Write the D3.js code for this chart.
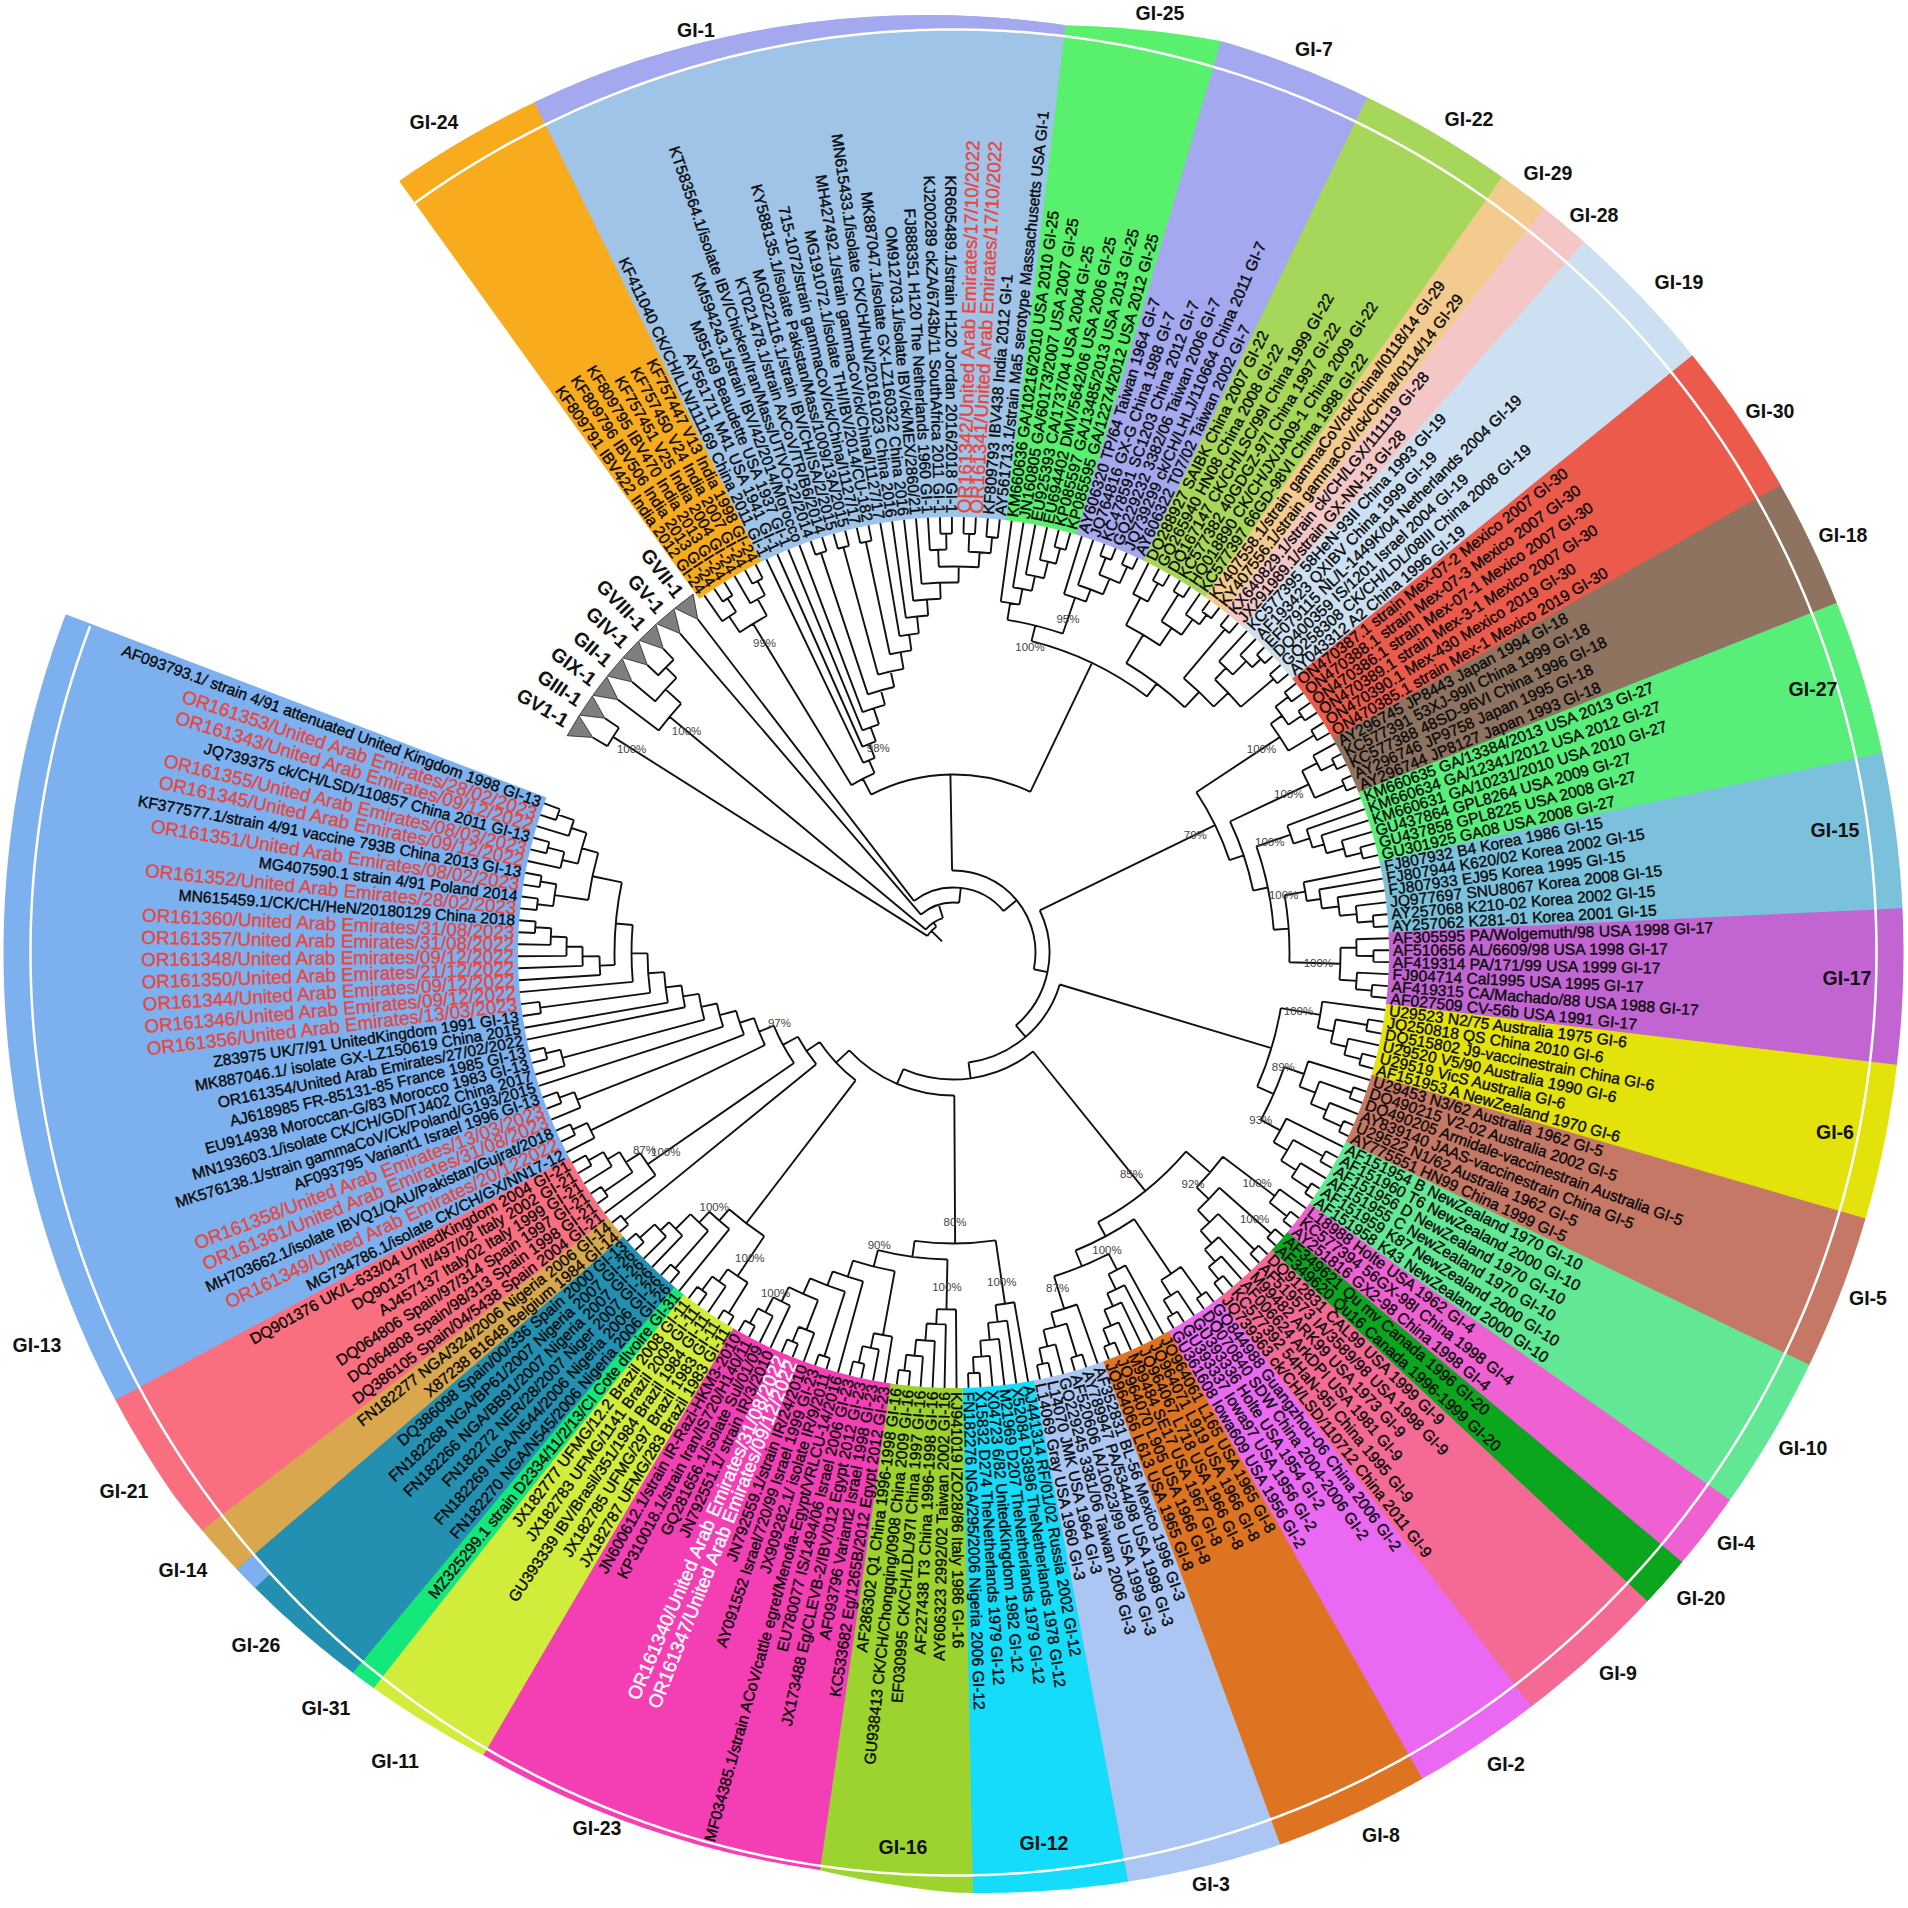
<!DOCTYPE html>
<html>
<head>
<meta charset="utf-8">
<script src="https://cdn.jsdelivr.net/npm/d3@7"></script>
<style>
  body { margin: 0; background: #fff; }
  text { font-family: "Liberation Sans", Arial, sans-serif; }
</style>
</head>
<body>
<div id="chart"></div>
<script>
// taxa, clockwise from the collapsed clades
const collapsed = ["GV1-1","GIII-1","GIX-1","GII-1","GIV-1","GVIII-1","GV-1","GVII-1"];
const gi24 = ["KF809791 IBV422 India 2012 GI-24","KF809796 IBV506 India 2013 GI-24","KF809795 IBV470 India 2013 GI-24","KF757451 V25 India 2004 GI-24","KF757450 V24 India 2007 GI-24","KF757447 V13 India 1998 GI-24"];
const gi1 = ["KF411040 CK/CH/LLN/111169 China 2011 GI-1","AY561711 M41 USA 1941 GI-1","M95169 Beaudette USA 1937 GI-1","KM594243.1/strain IBV/42/2014/Morocco","KT583564.1/isolate IBV/Chicken/Iran/Mass/UTIVO-22/2014","KT021478.1/strain AvCoV/TR/B6/2014","MG022116.1/strain IBV/CH/ISA/2/2015","KY588135.1/isolate Pakistan/Mass/1009/13A/2015","715-1072/strain gammaCoV/ck/China/I1127/17","MG191072.1/isolate THI/IBV/2014/CU-182","MH427492.1/strain gammaCoV/ck/China/I1127/17","MN615433.1/isolate CK/CH/HuN/20161023 China 2016","MK887047.1/isolate GX-LZ160322 China 2016","OM912703.1/isolate IBV/ck/MEX/2860/21","FJ888351 H120 The Netherlands 1960 GI-1","KJ200289 ckZA/6743b/11 SouthAfrica 2011 GI-1","KR605489.1/strain H120 Jordan 2016/2018 GI-1","OR161342/United Arab Emirates/17/10/2022","OR161341/United Arab Emirates/17/10/2022","KF809793 IBV438 India 2012 GI-1","AY561713.1/strain Ma5 serotype Massachusetts USA GI-1"];
const gi25 = ["KM660636 GA/10216/2010 USA 2010 GI-25","JN160805 GA/60173/2007 USA 2007 GI-25","EU925393 CA/1737/04 USA 2004 GI-25","EU694402 DMV/5642/06 USA 2006 GI-25","KP085597 GA/13485/2013 USA 2013 GI-25","KP085595 GA/12274/2012 USA 2012 GI-25"];
const gi7 = ["AY606320 TP/64 Taiwan 1964 GI-7","JQ764816 GX-G China 1988 GI-7","KC478591 SC1203 China 2012 GI-7","GQ229232 3382/06 Taiwan 2006 GI-7","JQ739299 ck/CH/LHLJ/110664 China 2011 GI-7","AY606322 T07/02 Taiwan 2002 GI-7"];
const gi22 = ["DQ288927 SAIBK China 2007 GI-22","GQ265940 HN08 China 2008 GI-22","DQ167147 CK/CH/LSC/99I China 1999 GI-22","KC577382 40GDGZ-97I China 1997 GI-22","HQ018890 CK/CH/JX/JA09-1 China 2009 GI-22","KC577397 66GD-98VI China 1998 GI-22"];
const gi29 = ["KY407558.1/strain gammaCoV/ck/China/I0118/14 GI-29","KY407556.1/strain gammaCoV/ck/China/I0114/14 GI-29"];
const gi28 = ["KX640829.1/strain ck/CH/LGX/111119 GI-28","JX291989.1/strain GX-NN-13 GI-28"];
const gi19 = ["KC577395 58HeN-93II China 1993 GI-19","AF193423 QXIBV China 1999 GI-19","EF079115 NL/L-1449K/04 Netherlands 2004 GI-19","DQ400359 IS/1201 Israel 2004 GI-19","GQ258308 CK/CH/LDL/08III China 2008 GI-19","AY043312 A2 China 1996 GI-19"];
const gi30 = ["ON470387.1 strain Mex-07-2 Mexico 2007 GI-30","ON470388.1 strain Mex-07-3 Mexico 2007 GI-30","ON470386.1 strain Mex-07-1 Mexico 2007 GI-30","ON470389.1 strain Mex-3-1 Mexico 2007 GI-30","ON470390.1 Mex-430 Mexico 2019 GI-30","ON470385.1 strain Mex-1 Mexico 2019 GI-30"];
const gi18 = ["AY296745 JP8443 Japan 1994 GI-18","KC577391 53XJ-99II China 1999 GI-18","KC577388 48SD-96VI China 1996 GI-18","AY296746 JP9758 Japan 1995 GI-18","AY296744 JP8127 Japan 1993 GI-18"];
const gi27 = ["KM660635 GA/13384/2013 USA 2013 GI-27","KM660634 GA/12341/2012 USA 2012 GI-27","KM660631 GA/10231/2010 USA 2010 GI-27","GU437864 GPL8264 USA 2009 GI-27","GU437858 GPL8225 USA 2008 GI-27","GU301925 GA08 USA 2008 GI-27"];
const gi15 = ["FJ807932 B4 Korea 1986 GI-15","FJ807944 K620/02 Korea 2002 GI-15","FJ807933 EJ95 Korea 1995 GI-15","JQ977697 SNU8067 Korea 2008 GI-15","AY257068 K210-02 Korea 2002 GI-15","AY257062 K281-01 Korea 2001 GI-15"];
const gi17 = ["AF305595 PA/Wolgemuth/98 USA 1998 GI-17","AF510656 AL/6609/98 USA 1998 GI-17","AF419314 PA/171/99 USA 1999 GI-17","FJ904714 Cal1995 USA 1995 GI-17","AF419315 CA/Machado/88 USA 1988 GI-17","AF027509 CV-56b USA 1991 GI-17"];
const gi6 = ["U29523 N2/75 Australia 1975 GI-6","JQ250818 QS China 2010 GI-6","DQ515802 J9-vaccinestrain China GI-6","U29520 V5/90 Australia 1990 GI-6","U29519 VicS Australia GI-6","AF151953 A NewZealand 1970 GI-6"];
const gi5 = ["U29453 N3/62 Australia 1962 GI-5","DQ490215 V2-02 Australia 2002 GI-5","DQ490205 Armidale-vaccinestrain Australia GI-5","AY839140 JAAS-vaccinestrain China GI-5","U29522 N1/62 Australia 1962 GI-5","AY775551 HN99 China 1999 GI-5"];
const gi10 = ["AF151954 B NewZealand 1970 GI-10","AF151960 T6 NewZealand 2000 GI-10","AF151956 D NewZealand 1970 GI-10","AF151955 C NewZealand 1970 GI-10","AF151959 K87 NewZealand 2000 GI-10","AF151958 K43 NewZealand 2000 GI-10"];
const gi4 = ["L18988 Holte USA 1962 GI-4","KC577394 56GX-98I China 1998 GI-4","AY251816 GX2-98 China 1998 GI-4"];
const gi20 = ["AF349621 Qu mv Canada 1996 GI-20","AF349620 Qu16 Canada 1996-1999 GI-20"];
const gi9 = ["DQ912831 CAL99 USA 1999 GI-9","AF519573 IA/3589/98 USA 1998 GI-9","M99482 ARK99 USA 1973 GI-9","AF006624 ArkDPI USA 1981 GI-9","KC577392 54HaN-95I China 1995 GI-9","JQ739363 ck/CH/LSD/110712 China 2011 GI-9"];
const gi2 = ["GQ844988 Guangzhou-06 China 2006 GI-2","DQ070840 SDW China 2004-2006 GI-2","GU393336 Holte USA 1954 GI-2","GU393337 Iowa97 USA 1956 GI-2","GU361608 Iowa609 USA 1956 GI-2"];
const gi8 = ["JQ964061 L165 USA 1965 GI-8","JQ964071 L919 USA 1966 GI-8","JQ964067 L718 USA 1966 GI-8","M99484 SE17 USA 1967 GI-8","JQ964070 L905 USA 1966 GI-8","JQ964066 L613 USA 1965 GI-8"];
const gi3 = ["AF352831 BL-56 Mexico 1996 GI-3","AY789947 PA/5344/98 USA 1998 GI-3","AF520606 IA/10623/99 USA 1999 GI-3","GQ229245 3381/06 Taiwan 2006 GI-3","L14070 JMK USA 1964 GI-3","L14069 Gray USA 1960 GI-3"];
const gi12 = ["AJ441314 RF/01/02 Russia 2002 GI-12","X52084 D3896 TheNetherlands 1978 GI-12","M21969 D207 TheNetherlands 1979 GI-12","X04723 6/82 UnitedKingdom 1982 GI-12","X15832 D274 TheNetherlands 1979 GI-12","FN182276 NGA/295/2006 Nigeria 2006 GI-12"];
const gi16 = ["KJ941019 IZO28/86 Italy 1986 GI-16","AY606323 2992/02 Taiwan 2002 GI-16","AF227438 T3 China 1996-1998 GI-16","EF030995 CK/CH/LDL/97I China 1997 GI-16","GU938413 CK/CH/Chongqing/0908 China 2009 GI-16","AF286302 Q1 China 1996-1998 GI-16"];
const gi23 = ["KC533682 Eg/1265B/2012 Egypt 2012 GI-23","AF093796 Variant2 Israel 1998 GI-23","JX173488 Eg/CLEVB-2/IBV/012 Egypt 2012 GI-23","EU780077 IS/1494/06 Israel 2006 GI-23","MF034385.1/strain ACoV/cattle egret/Menofia-Egypt/VRLCU-14/2016","JX909282.1/ isolate IR/9/2011","AY091552 Israel/720/99 Israel 1999 GI-23","JN792559.1/strain IR/24/2010","OR161347/United Arab Emirates/09/12/2022","OR161340/United Arab Emirates/31/08/2022","JN792551.1/ strain IR/3/2010","GQ281656.1/isolate Sul/01/09","KP310018.1/strain Iran/IS720/H140/11","JN600612.1/strain IR-Razi-HKM3-2010"];
const gi11 = ["JX182787 UFMG/283 Brazil 1983 GI-11","JX182785 UFMG/297 Brazil 1983 GI-11","GU393339 IBV/Brasil/351/1984 Brazil 1984 GI-11","JX182783 UFMG/1141 Brazil 2009 GI-11","JX182777 UFMG/12.2 Brazil 2008 GI-11"];
const gi31 = ["MZ325299.1 strain D2334/11/2/13/CI Cote dIvoire GI-31"];
const gi26 = ["FN182270 NGA/N545/2006 Nigeria 2006 GI-26","FN182269 NGA/N544/2006 Nigeria 2006 GI-26","FN182272 NER/28/2007 Niger 2007 GI-26","FN182266 NGA/BB91/2007 Nigeria 2007 GI-26","FN182268 NGA/BP61/2007 Nigeria 2007 GI-26","DQ386098 Spain/00/336 Spain 2000 GI-13"];
const gi14 = ["X87238 B1648 Belgium 1984 GI-14","FN182277 NGA/324/2006 Nigeria 2006 GI-14"];
const gi21 = ["DQ386105 Spain/04/5438 Spain 2004 GI-21","DQ064808 Spain/98/313 Spain 1998 GI-21","DQ064806 Spain/97/314 Spain 1997 GI-21","AJ457137 Italy02 Italy 1999 GI-21","DQ901377 It/497/02 Italy 2002 GI-21","DQ901376 UK/L-633/04 UnitedKingdom 2004 GI-21"];
const gi13 = ["MG734786.1/isolate CK/CH/GX/NN17-12","OR161349/United Arab Emirates/20/122022","MH703662.1/isolate IBVQ1/QAU/Pakistan/Gujrat/2018","OR161361/United Arab Emirates/31/08/2023","OR161358/United Arab Emirates/13/03/2023","AF093795 Variant1 Israel 1996 GI-13","MK576138.1/strain gammaCoV/Ck/Poland/G193/2015","MN193603.1/isolate CK/CH/GD/TJ402 China 2017","EU914938 Moroccan-G/83 Morocco 1983 GI-13","AJ618985 FR-85131-85 France 1985 GI-13","OR161354/United Arab Emirates/27/02/2022","MK887046.1/ isolate GX-LZ150619 China 2015","Z83975 UK/7/91 UnitedKingdom 1991 GI-13","OR161356/United Arab Emirates/13/03/2023","OR161346/United Arab Emirates/09/12/2022","OR161344/United Arab Emirates/09/12/2022","OR161350/United Arab Emirates/21/12/2022","OR161348/United Arab Emirates/09/12/2022","OR161357/United Arab Emirates/31/08/2022","OR161360/United Arab Emirates/31/08/2023","MN615459.1/CK/CH/HeN/20180129 China 2018","OR161352/United Arab Emirates/28/02/2023","MG407590.1 strain 4/91 Poland 2014","OR161351/United Arab Emirates/08/02/2023","KF377577.1/strain 4/91 vaccine 793B China 2013 GI-13","OR161345/United Arab Emirates/09/12/2022","OR161355/United Arab Emirates/08/03/2023","JQ739375 ck/CH/LSD/110857 China 2011 GI-13","OR161343/United Arab Emirates/09/12/2022","OR161353/United Arab Emirates/28/02/2023","AF093793.1/ strain 4/91 attenuated United Kingdom 1998 GI-13"];

const cladeNames = ["GI-24","GI-1","GI-25","GI-7","GI-22","GI-29","GI-28","GI-19","GI-30","GI-18","GI-27","GI-15","GI-17","GI-6","GI-5","GI-10","GI-4","GI-20","GI-9","GI-2","GI-8","GI-3","GI-12","GI-16","GI-23","GI-11","GI-31","GI-26","GI-14","GI-21","GI-13"];
const cladeTaxa = [gi24,gi1,gi25,gi7,gi22,gi29,gi28,gi19,gi30,gi18,gi27,gi15,gi17,gi6,gi5,gi10,gi4,gi20,gi9,gi2,gi8,gi3,gi12,gi16,gi23,gi11,gi31,gi26,gi14,gi21,gi13];
const cladeColors = ["#f9ab1e","#9fc4e8","#58f06c","#a3a8ef","#a6d65a","#f3cb8e","#f4c6c6","#cde0f2","#ec5a4c","#8d7360","#58ee7a","#7cc1dc","#c265d2","#e3e20a","#c67866","#62e894","#ef60d2","#0ca61e","#f46a94","#ea68f2","#de7322","#acc6f4","#14dcfa","#9cd32e","#f43eb4","#d2ec3c","#14e87a","#2390b2","#d9a74e","#fa6f80","#7cb0ee"];

// tree: "." leaf, "^" collapsed clade, number after ")" = node depth, [..] = support
const t_gi24 = "((.,(.,.)420)404,(.,(.,.)420)404)385[99%]";
const t_gi1 = "(.,(.,(.,(.,((.,.)421,((.,.)420,((.,.)420,(.,(.,(.,(.,((.,(.,.)419)403,((.,.)419,(.,.)417)401)386)370)354)338)321)305)288)272)257)240[98%])225)210";
const t_gi25 = "(.,(.,(.,(.,(.,.)418)402)385)370)354";
const t_gi7 = "(.,(.,((.,.)423,(.,.)423)405)388)375[95%]";
const t_gi2229 = "((.,(.,.)422)401,((.,.)423,(.,(.,.)422)410)391)370";
const t_gi2819 = "((.,.)422,((.,(.,(.,.)425)413)394,(.,.)421)378)358";
const t_top = `((${t_gi24},${t_gi1})196,((${t_gi25},${t_gi7})337[100%],(${t_gi2229},${t_gi2819})337)321)178`;
const t_gi30 = "(((.,.)421,(.,.)421)405,(.,.)421)391[100%]";
const t_gi18 = "((.,(.,.)425)410,(.,.)425)393[100%]";
const t_gi27 = "(.,(.,(.,(.,(.,.)420)404)386)374)357[100%]";
const t_gi15 = "(.,(.,(.,(.,(.,.)421)405)388)371)357[100%]";
const t_gi17 = "((.,(.,.)420)403,(.,(.,.)420)404)387[100%]";
const t_79 = `(${t_gi30},(${t_gi18},(${t_gi27},(${t_gi15},${t_gi17})336)321)306)291[79%]`;
const t_gi6 = "(.,((.,.)420,(.,(.,.)421)404)388)372[100%]";
const t_gi5 = "(.,((.,.)422,(.,(.,.)425)405)388)371[89%]";
const t_gi10 = "(.,((.,.)422,(.,(.,.)426)406)388)372[93%]";
const t_6510 = `(${t_gi6},(${t_gi5},${t_gi10})350)332`;
const t_gi4 = "(.,(.,.)425)403[100%]";
const t_gi20 = "(.,.)424[100%]";
const t_gi9 = "((.,.)423,(.,(.,(.,.)421)405)389)372";
const t_gi2 = "((.,.)423,(.,(.,.)423)406)388";
const t_gi8 = "(.,(.,(.,(.,(.,.)422)405)388)374)357[100%]";
const t_gi3 = "(.,((.,.)422,(.,(.,.)421)405)388)373[87%]";
const t_85 = `((${t_gi4},(${t_gi20},${t_gi9})355[92%])338,(${t_gi2},(${t_gi8},${t_gi3})339)322)306[85%]`;
const t_gi12 = "(.,(.,(.,(.,(.,.)421)405)389)372)355[100%]";
const t_gi16 = "(.,(.,(.,(.,(.,.)421)405)389)372)357[100%]";
const t_gi23 = "((.,(.,(.,.)421)404)389,(.,((.,.)424,((.,(.,.)421)405,(.,(.,(.,.)423)406[100%])389)373)356)341)324[90%]";
const t_80 = `(${t_gi12},(${t_gi16},${t_gi23})307)291[80%]`;
const t_gi11 = "((.,.)425,(.,(.,.)421)404)389[100%]";
const t_gi26 = "((.,.)421,(.,(.,(.,.)424)404)392)371[100%]";
const t_gi14 = "(.,.)424";
const t_gi21 = "(.,((.,.)423,(.,(.,.)420)403)389[87%])372[100%]";
const t_gi13 = "((.,(.,.)420)404,((.,(.,.)420)404,(.,((.,(.,.)420)405,(.,(.,((.,.)417,(.,((.,(.,(.,(.,(.,.)419)403)387)371)354,(((.,.)419,(.,.)419)403,((.,(.,.)419)402,(.,(.,.)419)402)386)369)339)322)306)290)274)258)242)225)210[97%]";
const t_161 = `((${t_gi11},(.,${t_gi26})356)341,(${t_gi14},(${t_gi21},${t_gi13})194)177)161`;
const t_main = `(${t_top},(${t_79},(${t_6510},(${t_85},(${t_80},${t_161})143)127)111)96)82`;
const t_root = `((^,^)403[100%],((^,(^,(^,^)405)390)369[100%],(^,(^,${t_main})65)50)36)31`;
const rootStemEnd = 16;

// the band of the GI-1 wedge and the one-taxon GI-13 piece beside GI-14 differ from the wedge colour
const bandColorGI1 = "#a3a8ef";
const redTaxa = ["OR161342","OR161341","OR161349","OR161361","OR161358","OR161356","OR161346","OR161344","OR161350","OR161348","OR161357","OR161360","OR161352","OR161351","OR161345","OR161355","OR161343","OR161353"];
const whiteTaxa = ["OR161347","OR161340"];

const W = 1908, cx = 953.5, cy = 952.5;
const ringR = 435.5, lineR = 923;
const firstAngle = -35.7, lastAngle = 290.8;
const totalTaxa = d3.sum(cladeTaxa, d => d.length);

const angleOf = d3.scaleLinear().domain([0, totalTaxa]).range([firstAngle, lastAngle]);
const triAngle = d3.scaleLinear().domain([0, collapsed.length - 1]).range([-59.2, -37.5]);
const rad = d3.scaleLinear().domain([0, ringR]).range([0, ringR]);
// the outer rim is not a true circle: it sits lower at the top and higher at the bottom left
const rimR = d3.scaleLinear()
  .domain([-36, -22, 6.8, 7, 16.5, 160, 170, 180, 188.5, 210, 235, 291])
  .range([950, 947, 934, 934, 950, 950, 945, 940, 927, 930, 950, 950]);

const svg = d3.select("#chart").append("svg").attr("width", W).attr("height", W).style("display", "block");
const g = svg.append("g").attr("transform", "translate(" + cx + "," + cy + ")");

const toRad = a => a * Math.PI / 180;
const polar = (a, r) => [r * Math.sin(toRad(a)), -r * Math.cos(toRad(a))];

// wedges
const radial = d3.lineRadial().angle(d => toRad(d[0])).radius(d => d[1]);
function sector(a0, a1, inner) {
  const steps = d3.range(a0, a1, 0.4).concat([a1]);
  const pts = steps.map(a => [a, rimR(a)]);
  return radial(pts.concat(steps.slice().reverse().map(a => [a, inner]))) + "Z";
}
let pos = 0;
cladeNames.forEach(function(name, i) {
  const n = cladeTaxa[i].length;
  const a0 = angleOf(pos), a1 = angleOf(pos + n);
  g.append("path").attr("fill", cladeColors[i]).attr("d", sector(a0, a1 + 0.05, ringR));
  if (name === "GI-1") g.append("path").attr("fill", bandColorGI1).attr("d", sector(a0, a1, lineR));
  if (name === "GI-26") g.append("path").attr("fill", cladeColors[cladeNames.indexOf("GI-13")]).attr("d", sector(angleOf(pos + n - 1), a1, lineR));
  pos += n;
});
// white line through the outer band
g.append("path").attr("fill", "none").attr("stroke", "#fff").attr("stroke-width", 2.5)
  .attr("d", radial(d3.range(firstAngle, lastAngle, 0.4).map(a => [a, lineR])));

// parse the tree string
const allTaxa = cladeTaxa.flat();
let cursor = 0, leafIdx = 0, triIdx = 0;
function parseNode() {
  const ch = t_root[cursor];
  if (ch === ".") { cursor++; return { depth: ringR, angle: angleOf(leafIdx + 0.5), name: allTaxa[leafIdx++] }; }
  if (ch === "^") { cursor++; return { depth: 420, angle: triAngle(triIdx), name: collapsed[triIdx++], tri: true }; }
  cursor++; // (
  const children = [];
  while (true) {
    children.push(parseNode());
    if (t_root[cursor] === ",") { cursor++; continue; }
    cursor++; // )
    break;
  }
  let num = "";
  while (/[0-9]/.test(t_root[cursor])) num += t_root[cursor++];
  let support = null;
  if (t_root[cursor] === "[") {
    const end = t_root.indexOf("]", cursor);
    support = t_root.slice(cursor + 1, end);
    cursor = end + 1;
  }
  return { depth: +num, support: support, children: children };
}
const root = d3.hierarchy(parseNode());
root.eachAfter(function(d) {
  if (d.children) d.data.angle = (d.children[0].data.angle + d.children[d.children.length - 1].data.angle) / 2;
});

// branches
const branches = d3.path();
root.each(function(d) {
  const a = d.data.angle, r = rad(d.data.depth);
  const pr = d.parent ? rad(d.parent.data.depth) : rad(rootStemEnd);
  const p0 = polar(a, pr), p1 = polar(a, r);
  branches.moveTo(p0[0], p0[1]);
  branches.lineTo(p1[0], p1[1]);
  if (d.children) {
    const a0 = d.children[0].data.angle, a1 = d.children[d.children.length - 1].data.angle;
    const s = polar(a0, r);
    branches.moveTo(s[0], s[1]);
    branches.arc(0, 0, r, toRad(a0 - 90), toRad(a1 - 90));
  }
});
g.append("path").attr("d", branches.toString()).attr("fill", "none").attr("stroke", "#111").attr("stroke-width", 1.9);

// collapsed clades
const triLine = d3.line();
g.selectAll("path.tri").data(root.leaves().filter(d => d.data.tri)).enter().append("path")
  .attr("class", "tri")
  .attr("fill", "#7f7f7f").attr("stroke", "#222").attr("stroke-width", 0.8)
  .attr("d", d => triLine([polar(d.data.angle, 420), polar(d.data.angle - 1.5, 443), polar(d.data.angle + 1.5, 443)]) + "Z");

// taxon labels
function placeLabel(sel, r) {
  sel.attr("text-anchor", d => ((d.data.angle % 360) + 360) % 360 < 180 ? "start" : "end")
    .attr("dy", "0.35em")
    .attr("transform", function(d) {
      const a = ((d.data.angle % 360) + 360) % 360;
      const p = polar(a, r);
      return "translate(" + p[0] + "," + p[1] + ") rotate(" + (a < 180 ? a - 90 : a - 270) + ")";
    });
}
function labelColor(name) {
  const id = name.slice(0, 8);
  if (whiteTaxa.includes(id)) return "#fff";
  if (redTaxa.includes(id)) return "#e8473f";
  return "#0a0a0a";
}
const taxa = root.leaves().filter(d => !d.data.tri);
g.selectAll("text.taxon").data(taxa).enter().append("text")
  .attr("class", "taxon")
  .attr("font-size", d => labelColor(d.data.name) === "#0a0a0a" ? 15.7 : 18.8)
  .attr("fill", d => labelColor(d.data.name))
  .attr("stroke", d => labelColor(d.data.name))
  .attr("stroke-width", 0.4)
  .text(d => d.data.name)
  .call(placeLabel, ringR + 4);

g.selectAll("text.coll").data(root.leaves().filter(d => d.data.tri)).enter().append("text")
  .attr("class", "coll")
  .attr("font-size", 19.5).attr("font-weight", "bold").attr("fill", "#111")
  .text(d => d.data.name)
  .call(placeLabel, 450);

// support values, set just inside their node
g.selectAll("text.sup").data(root.descendants().filter(d => d.data.support)).enter().append("text")
  .attr("class", "sup")
  .attr("font-size", 11.5).attr("fill", "#444").attr("text-anchor", "middle").attr("dy", "0.35em")
  .attr("x", d => polar(d.data.angle, rad(d.data.depth) - 22)[0])
  .attr("y", d => polar(d.data.angle, rad(d.data.depth) - 22)[1])
  .text(d => d.data.support);

// clade names round the rim, in cladeNames order
const rimLabelXY = [[434,122],[696,30],[1160,13],[1314,49],[1469,119],[1548,173],[1594,215],[1679,282],[1770,411],[1843,535],[1813,689],[1835,830],[1847,978],[1835,1132],[1868,1298],[1803,1448],[1736,1543],[1701,1598],[1618,1673],[1506,1764],[1381,1835],[1211,1884],[1044,1843],[903,1847],[597,1828],[395,1761],[326,1708],[256,1645],[183,1570],[124,1491],[37,1345]];
svg.selectAll("text.rim").data(cladeNames).enter().append("text")
  .attr("class", "rim")
  .attr("x", (d, i) => rimLabelXY[i][0]).attr("y", (d, i) => rimLabelXY[i][1]).attr("dy", "0.35em")
  .attr("text-anchor", "middle").attr("font-size", 19.5).attr("font-weight", "bold").attr("fill", "#111")
  .text(d => d);
</script>
</body>
</html>
